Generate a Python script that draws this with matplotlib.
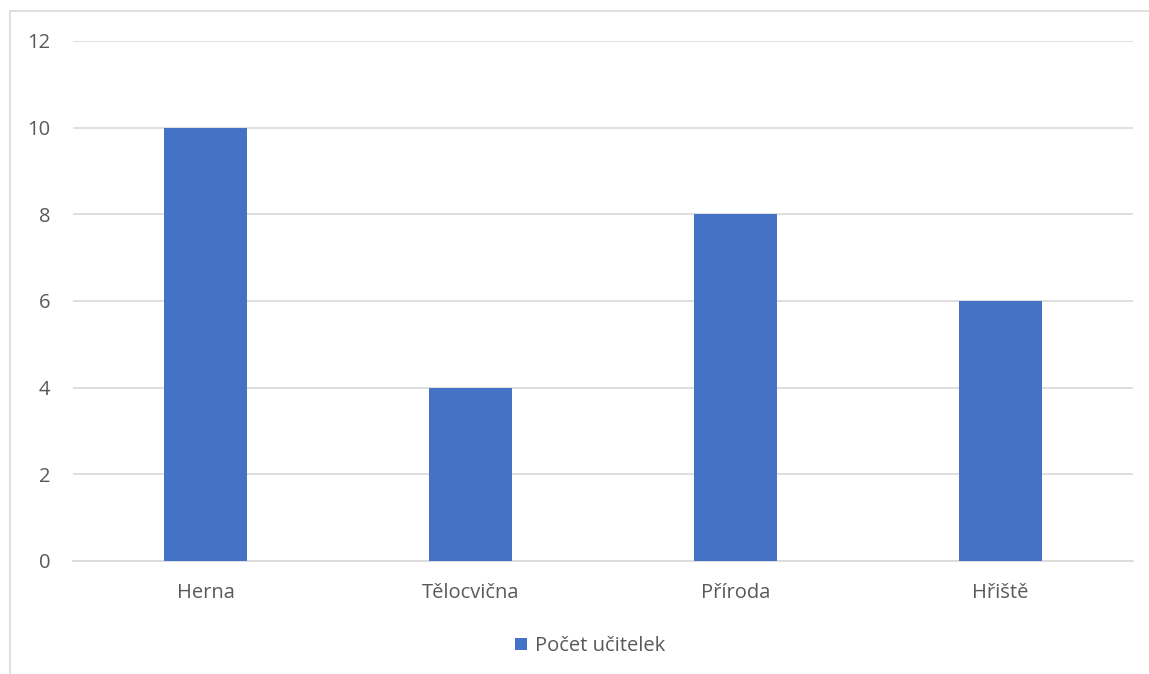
import matplotlib
matplotlib.use("Agg")
import matplotlib.pyplot as plt
from matplotlib.patches import Rectangle

categories = ["Herna", "Tělocvična", "Příroda", "Hřiště"]
values = [10, 4, 8, 6]
series_name = "Počet učitelek"
y_ticks = [0, 2, 4, 6, 8, 10, 12]

plt.rcParams['font.family'] = ['Open Sans', 'DejaVu Sans']

W, H = 1149, 674
fig = plt.figure(figsize=(W / 100, H / 100), dpi=100)
ax = fig.add_axes([73 / W, 1 - 561 / H, (1133 - 73) / W, (561 - 41) / H])

text_color = "#595959"
grid_color = "#d9d9d9"
fs = 14.5

x = range(len(categories))
ax.bar(x, values, width=0.313, color="#4472C4", label=series_name, zorder=3)

ax.set_xlim(-0.5, len(categories) - 0.5)
ax.set_ylim(0, 12)
ax.set_yticks(y_ticks)
ax.set_yticklabels([str(t) for t in y_ticks])
ax.set_xticks(list(x))
ax.set_xticklabels(categories)
ax.yaxis.grid(True, color=grid_color, linewidth=1.2, zorder=0)
ax.set_axisbelow(True)

for s in ["top", "right", "left"]:
    ax.spines[s].set_visible(False)
ax.spines["bottom"].set_color(grid_color)
ax.spines["bottom"].set_linewidth(1.2)

ax.tick_params(axis="both", length=0, labelsize=fs, colors=text_color)
ax.tick_params(axis="y", pad=16.5)
ax.tick_params(axis="x", pad=16)

# Chart border
fig.patches.append(Rectangle((10 / W, -0.1), 1.2, 1 - 11 / H + 0.1,
                             transform=fig.transFigure, fill=False,
                             edgecolor=grid_color, linewidth=1.2))

fig.legend(loc="center", bbox_to_anchor=(590 / W, 1 - 646 / H), frameon=False,
           fontsize=fs, labelcolor=text_color, handlelength=0.6,
           handleheight=0.6, handletextpad=0.4)

fig.savefig("out.png", dpi=100)
